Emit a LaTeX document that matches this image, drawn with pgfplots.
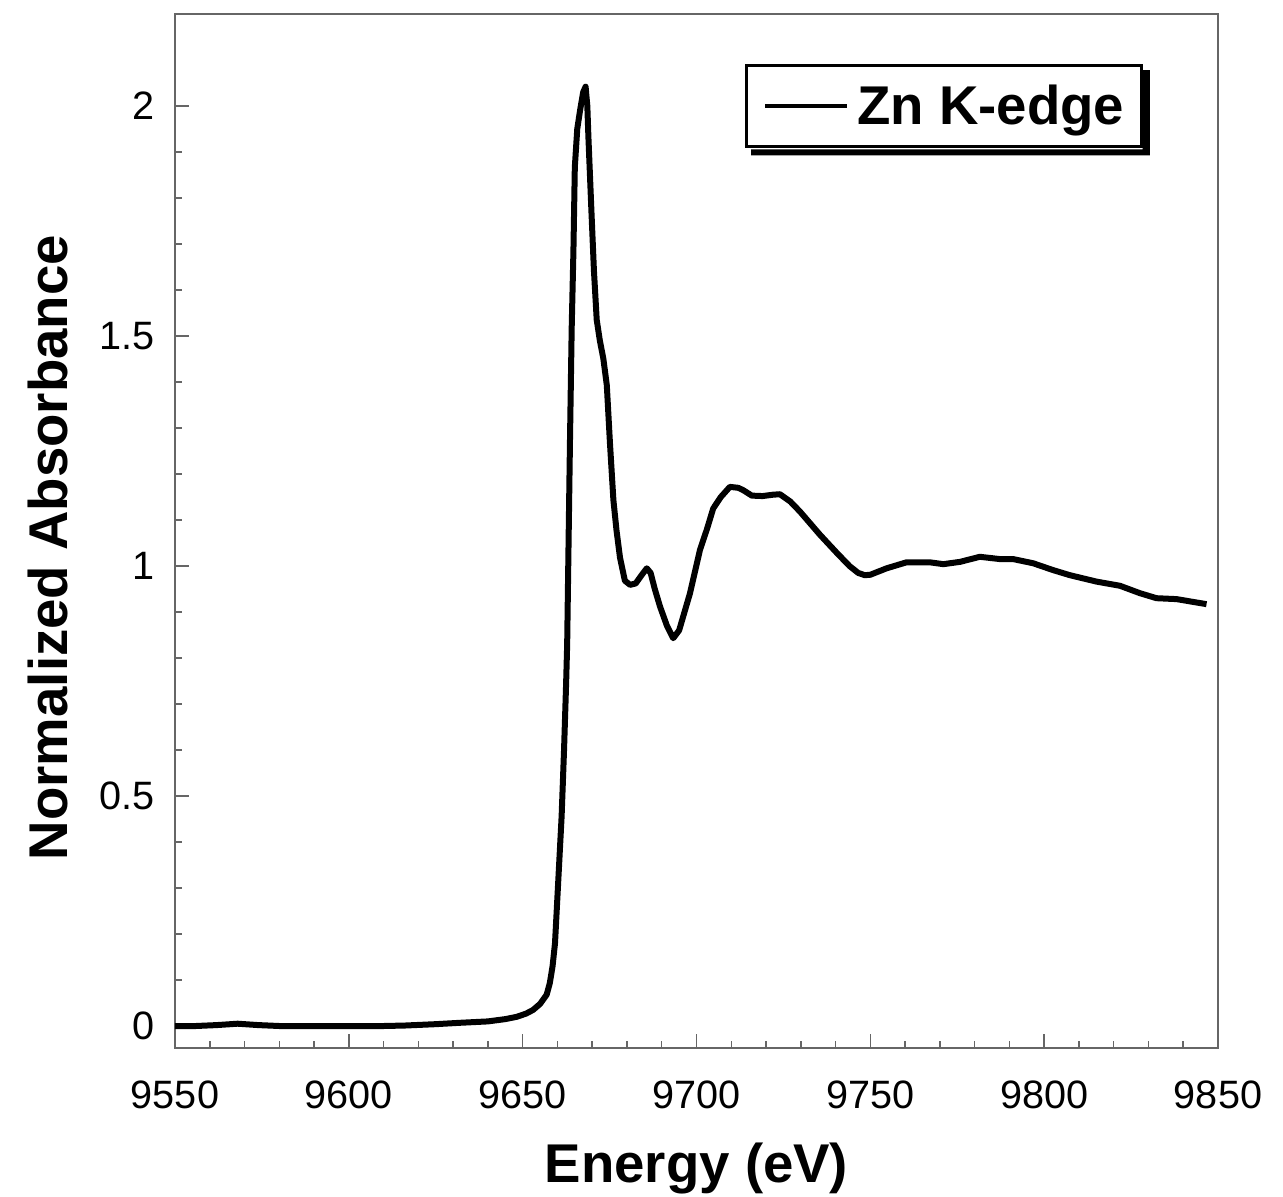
\documentclass[border=0pt]{standalone}
\usepackage{fontspec}
\setmainfont{Liberation Sans}
\usepackage{pgfplots}
\usepackage{pgfplotstable}
\pgfplotsset{compat=1.18}

% Zn K-edge XANES spectrum (normalized)
\pgfplotstableread{
E       mu
9550    0.000
9556    0.000
9562    0.002
9568    0.005
9574    0.002
9580    0.000
9590    0.000
9600    0.000
9610    0.000
9616    0.001
9625    0.004
9632    0.007
9640    0.010
9645    0.015
9648.3  0.020
9651    0.027
9653    0.035
9655    0.048
9656.9  0.068
9657.8  0.093
9658.6  0.130
9659.3  0.180
9660.2  0.310
9661.2  0.455
9661.9  0.600
9662.5  0.745
9662.8  0.830
9663.2  1.050
9663.6  1.268
9664.1  1.517
9664.6  1.685
9665.0  1.867
9665.7  1.950
9666.5  1.990
9667.4  2.030
9668.1  2.042
9668.6  2.000
9668.9  1.934
9669.8  1.767
9670.5  1.642
9671.3  1.535
9672.2  1.490
9673.2  1.451
9674.2  1.393
9675.1  1.268
9676.1  1.143
9677.0  1.077
9678.0  1.018
9679.4  0.968
9680.9  0.959
9682.5  0.962
9684.2  0.980
9685.7  0.995
9686.8  0.985
9688.0  0.950
9689.5  0.912
9691.5  0.870
9693.3  0.843
9695.0  0.860
9698.1  0.940
9701.0  1.035
9703.0  1.080
9704.8  1.125
9707.0  1.150
9709.6  1.172
9712.0  1.170
9713.4  1.165
9715.9  1.153
9719.0  1.152
9722.0  1.155
9724.0  1.156
9727.0  1.140
9729.8  1.118
9735.5  1.068
9740.3  1.029
9744.0  1.000
9746.5  0.985
9748.4  0.980
9750.0  0.981
9754.7  0.995
9760.4  1.008
9767.1  1.008
9771.0  1.004
9775.8  1.009
9781.5  1.020
9787.3  1.015
9791.1  1.015
9796.8  1.006
9802.6  0.991
9807.4  0.980
9815.1  0.966
9821.8  0.957
9827.5  0.941
9832.3  0.930
9838.1  0.928
9846.7  0.917
}\znedge

\begin{document}
\begin{tikzpicture}
\useasboundingbox (-87.5pt,-74.5pt) rectangle (554pt,524pt);
\begin{axis}[
  at={(0pt,0pt)}, anchor=south west,
  scale only axis, width=521.5pt, height=517pt,
  xmin=9550, xmax=9850, ymin=-0.0478, ymax=2.2,
  xtick={9550,9600,...,9850},
  ytick={0,0.5,1,1.5,2},
  minor x tick num=4, minor y tick num=4,
  xtick pos=left, ytick pos=left,
  tick align=inside,
  major tick length=7pt, minor tick length=3.6pt,
  axis line style={black!60, line width=0.75pt},
  every tick/.style={black!60, line width=0.75pt},
  scaled x ticks=false,
  /pgf/number format/1000 sep={},
  /pgf/number format/assume math mode=true,
  tick label style={font=\fontsize{19.8}{22}\selectfont, inner sep=0pt},
  xticklabel style={yshift=-16pt},
  yticklabel style={xshift=-10pt},
  xlabel={Energy (eV)},
  ylabel={Normalized Absorbance},
  label style={font=\bfseries\fontsize{27.3}{30}\selectfont, inner sep=0pt},
  xlabel style={at={(axis description cs:0.5,-0.1296)}, anchor=base},
  ylabel style={at={(axis description cs:-0.1026,0.484)}, anchor=base},
  legend style={
    name=znlegend,
    at={(axis description cs:0.5465,0.9516)}, anchor=north west,
    draw=black, line width=1.35pt, fill=white,
    font=\bfseries\fontsize{27.3}{30}\selectfont,
    inner xsep=8.5pt, inner ysep=5pt,
    column sep=4.2pt,
    nodes={inner sep=0pt, text height=24.35pt, text depth=6.35pt},
  },
  legend cell align=left,
  legend image code/.code={
    \draw[#1, line width=2pt] (0pt,0pt) -- (40.8pt,0pt);
  },
]
\addplot[black, line width=3pt, line join=round] table[x=E, y=mu] {\znedge};
\addlegendentry{Zn K-edge}
\end{axis}
% solid shadow along the right and lower edges of the legend box
\fill[black]
  ([yshift=-3pt]znlegend.north east) -- ++(3.675pt,0pt)
  |- ([xshift=3pt,yshift=-3.675pt]znlegend.south west)
  -- ++(0pt,3pt) -| cycle;
\end{tikzpicture}
\end{document}
